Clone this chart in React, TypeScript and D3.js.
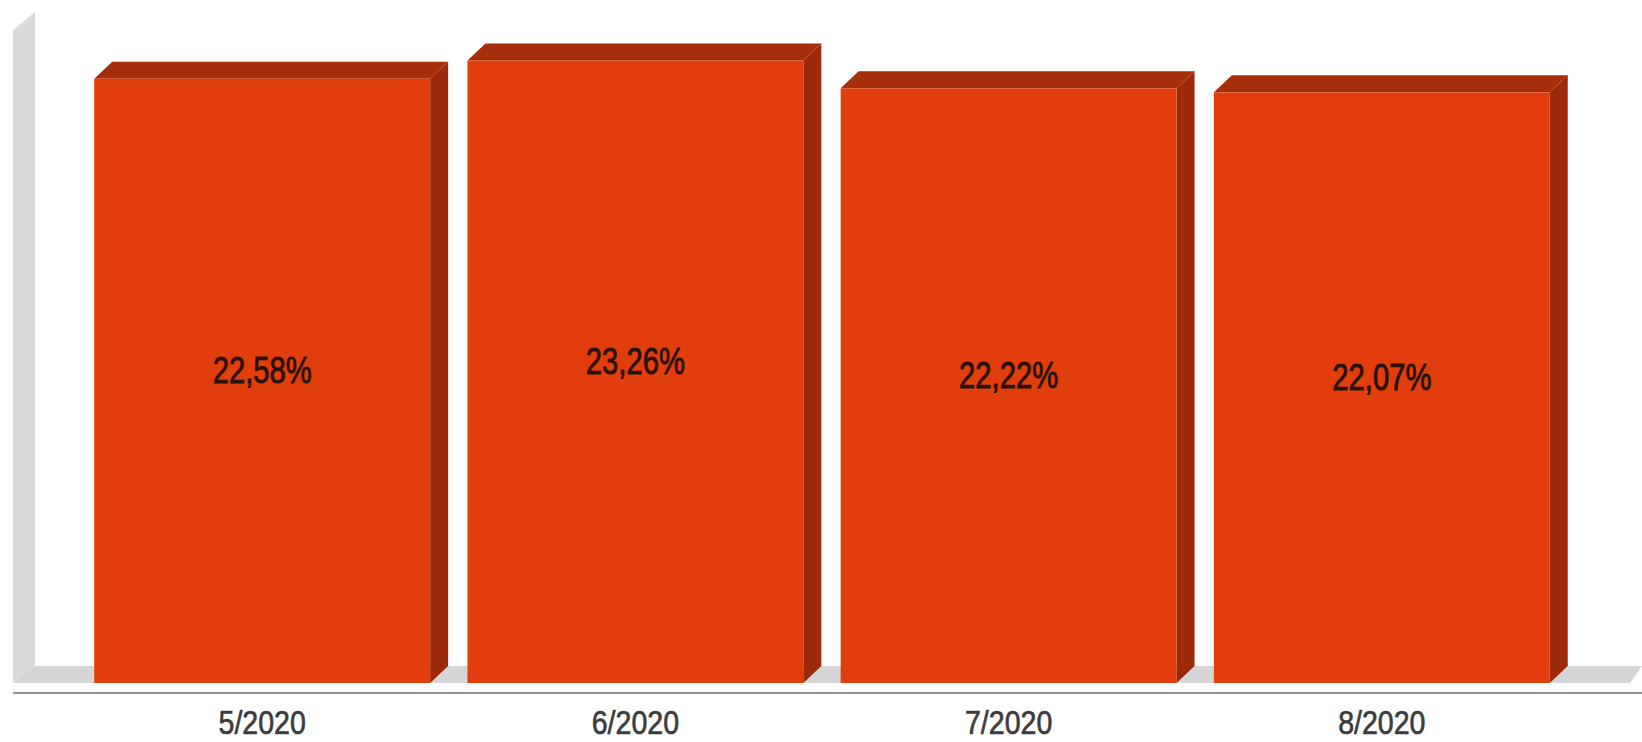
import React from "react";
import * as d3 from "d3";

const categories = ["5/2020", "6/2020", "7/2020", "8/2020"];
const values = [22.58, 23.26, 22.22, 22.07];
const valueLabels = ["22,58%", "23,26%", "22,22%", "22,07%"];

const W = 1642;
const H = 742;
const DX = 18;
const DY = 17;
const FLOOR_Y = 683;

export default function App() {
  const x = d3
    .scaleBand<string>()
    .domain(categories)
    .range([14, 1630])
    .paddingInner(0.1)
    .paddingOuter(0.215);
  const y = d3.scaleLinear().domain([0, 24.4]).range([FLOOR_Y, 30]);
  const bw = x.bandwidth();

  const floorLeft = 13;
  const floorRight = 1630;

  return (
    <svg
      width={W}
      height={H}
      style={{ position: "absolute", left: 0, top: 0, background: "#fff" }}
    >
      {/* left wall (side slab) */}
      <polygon
        points={`${floorLeft},${y(24.4)} ${floorLeft + DX + 4},${y(24.4) - DY - 1} ${floorLeft + DX + 4},${FLOOR_Y - DY} ${floorLeft},${FLOOR_Y}`}
        fill="#dadada"
      />
      {/* floor */}
      <polygon
        points={`${floorLeft},${FLOOR_Y} ${floorLeft + DX + 4},${FLOOR_Y - DY} ${floorRight + 12},${FLOOR_Y - DY} ${floorRight},${FLOOR_Y}`}
        fill="#d5d5d5"
      />
      {/* axis line */}
      <line x1={13} x2={W} y1={693} y2={693} stroke="#8c9494" strokeWidth={2} />

      {categories.map((c, i) => {
        const x0 = x(c)!;
        const x1 = x0 + bw;
        const yt = y(values[i]);
        const yb = y(0);
        return (
          <g key={c}>
            {/* top face */}
            <polygon
              points={`${x0},${yt} ${x0 + DX},${yt - DY} ${x1 + DX},${yt - DY} ${x1},${yt}`}
              fill="#a62e0b"
            />
            {/* side face */}
            <polygon
              points={`${x1},${yt} ${x1 + DX},${yt - DY} ${x1 + DX},${yb - DY} ${x1},${yb}`}
              fill="#9c2a0a"
            />
            <line x1={x1} y1={yt} x2={x1 + DX} y2={yt - DY} stroke="#c04a20" strokeWidth={1} />
            {/* front face */}
            <rect x={x0} y={yt} width={bw} height={yb - yt} fill="#e23d0d" />
            {/* value label */}
            <text
              transform={`translate(${x0 + bw / 2},${(yt + yb) / 2 + 2}) scale(0.79,1)`}
              textAnchor="middle"
              fontFamily="'Liberation Sans', Arial, sans-serif"
              fontSize={37}
              fill="#2a1208"
              stroke="#2a1208"
              strokeWidth={0.9}
            >
              {valueLabels[i]}
            </text>
            {/* category label */}
            <text
              transform={`translate(${x0 + bw / 2},734) scale(0.84,1)`}
              textAnchor="middle"
              fontFamily="'Liberation Sans', Arial, sans-serif"
              fontSize={34}
              fill="#3c3c3c"
              stroke="#3c3c3c"
              strokeWidth={0.7}
            >
              {c}
            </text>
          </g>
        );
      })}
    </svg>
  );
}
